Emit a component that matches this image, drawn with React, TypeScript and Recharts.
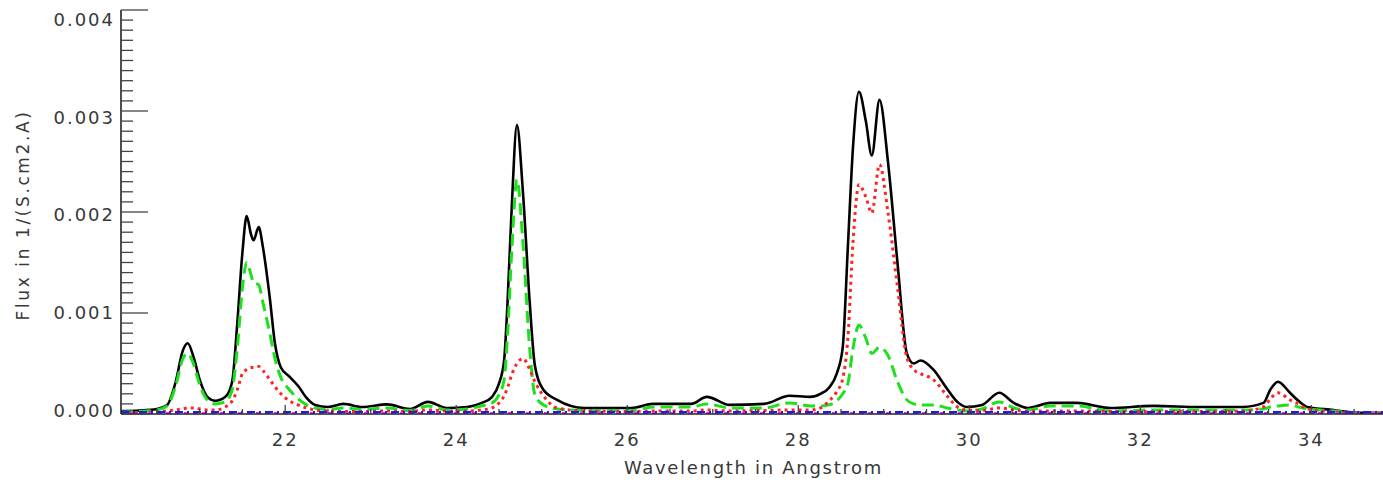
import React from 'react';
import { LineChart, Line, XAxis, YAxis } from 'recharts';

// Spectrum sampled in wavelength (Angstrom); fluxes in units of 1e-4 per (s cm2 A)
const wavelength = [
  20.08, 20.3, 20.5, 20.62, 20.72, 20.8, 20.86, 20.93, 21.0, 21.1,
  21.18, 21.3, 21.38, 21.44, 21.5, 21.55, 21.6, 21.63, 21.69, 21.74,
  21.82, 21.88, 21.95, 22.05, 22.15, 22.25, 22.35, 22.5, 22.68, 22.9,
  23.19, 23.46, 23.67, 23.89, 24.13, 24.3, 24.42, 24.5, 24.56, 24.6,
  24.65, 24.71, 24.78, 24.86, 24.92, 25.02, 25.18, 25.5, 26.05, 26.3,
  26.75, 26.93, 27.2, 27.6, 27.9, 28.14, 28.26, 28.36, 28.45, 28.52,
  28.58, 28.64, 28.71, 28.79, 28.86, 28.95, 29.05, 29.16, 29.27, 29.35,
  29.43, 29.58, 29.74, 29.86, 29.97, 30.15, 30.35, 30.52, 30.68, 30.95,
  31.26, 31.65, 32.15, 32.7, 33.2, 33.44, 33.52, 33.61, 33.75, 33.85,
  33.95, 34.26, 34.5, 34.92,
];

const totalFlux = [
  0.3, 0.35, 0.5, 0.9, 3.2, 6.2, 7.0, 5.6, 3.4, 1.6,
  1.3, 1.7, 3.2, 9.0, 16.0, 19.6, 17.8, 17.2, 18.5, 16.5,
  11.5, 7.0, 4.6, 3.7, 2.8, 1.6, 0.9, 0.7, 1.0, 0.7,
  0.95, 0.5, 1.2, 0.6, 0.7, 1.1, 1.7, 3.0, 5.3, 11.0,
  20.6, 28.6, 22.0, 11.0, 4.8, 2.4, 1.4, 0.6, 0.6, 1.0,
  1.0, 1.7, 0.9, 1.0, 1.8, 1.7, 2.0, 2.6, 4.0, 6.6,
  16.5, 26.4, 31.9, 29.0, 25.6, 31.1, 24.9, 15.0, 6.0, 5.0,
  5.3, 4.4, 2.5, 1.2, 0.7, 0.9, 2.1, 1.1, 0.6, 1.1,
  1.1, 0.6, 0.8, 0.7, 0.7, 1.1, 2.4, 3.2, 2.1, 1.3,
  0.7, 0.4, 0.15, 0.1,
];

const greenComponent = [
  0.2, 0.25, 0.4, 0.8, 2.8, 5.4, 6.0, 4.9, 2.9, 1.3,
  1.0, 1.2, 2.4, 6.5, 12.5, 15.0, 13.8, 13.0, 12.8, 11.0,
  8.0, 5.5, 3.6, 2.4, 1.5, 0.9, 0.6, 0.45, 0.6, 0.45,
  0.6, 0.35, 0.8, 0.4, 0.5, 0.8, 1.1, 1.9, 3.4, 7.8,
  16.2, 23.2, 17.0, 6.4, 1.9, 0.9, 0.5, 0.35, 0.35, 0.7,
  0.7, 1.0, 0.6, 0.6, 1.1, 0.8, 0.8, 0.9, 1.3, 2.0,
  3.0, 6.5, 8.8, 7.5, 6.0, 6.6, 5.8, 3.2, 1.4, 1.0,
  0.9, 0.9, 0.6, 0.4, 0.3, 0.5, 1.2, 0.6, 0.4, 0.8,
  0.8, 0.3, 0.4, 0.4, 0.4, 0.5, 0.7, 0.8, 0.9, 0.7,
  0.5, 0.3, 0.1, 0.1,
];

const redComponent = [
  0.15, 0.15, 0.2, 0.3, 0.4, 0.5, 0.6, 0.6, 0.5, 0.4,
  0.4, 0.7, 1.3, 2.4, 4.0, 4.4, 4.6, 4.6, 4.7, 4.3,
  3.4, 2.7, 2.0, 1.3, 0.9, 0.6, 0.4, 0.3, 0.25, 0.25,
  0.3, 0.25, 0.4, 0.3, 0.3, 0.4, 0.6, 1.1, 1.8, 2.6,
  3.9, 5.0, 5.5, 4.4, 3.2, 1.8, 0.6, 0.3, 0.25, 0.3,
  0.3, 0.4, 0.3, 0.35, 0.4, 0.4, 0.6, 1.3, 2.2, 3.5,
  7.5, 17.0, 22.7, 21.5, 19.9, 24.7, 19.9, 12.6, 5.6, 4.4,
  4.0, 3.4, 1.8, 0.7, 0.4, 0.35, 0.6, 0.4, 0.3, 0.3,
  0.3, 0.25, 0.25, 0.25, 0.3, 0.7, 1.5, 2.1, 1.4, 1.0,
  0.5, 0.2, 0.1, 0.1,
];

// Near-zero continuum components
const flatWavelength = [20.08, 34.92];
const blueComponent = [0.2, 0.2];
const magentaComponent = [0.06, 0.06];

const FLUX_UNIT = 1e-4;

const X_DOMAIN: [number, number] = [20.08, 34.92];
const Y_DOMAIN: [number, number] = [0, 0.004];

// Tick positions: minor every 0.5 A, labelled every 2 A; minor every 1e-4 in flux
const xTicks: number[] = [];
for (let i = 41; i <= 69; i++) xTicks.push(i / 2);
const yTicks: number[] = [];
for (let i = 0; i <= 40; i++) yTicks.push(Number((i * 1e-4).toFixed(4)));

const isMajorX = (v: number) => Math.abs(v % 2) < 1e-6;
const isMajorY = (v: number) => Math.round(v * 1e4) % 10 === 0;

const data = wavelength.map((w, i) => ({
  w,
  total: totalFlux[i] * FLUX_UNIT,
  green: greenComponent[i] * FLUX_UNIT,
  red: redComponent[i] * FLUX_UNIT,
}));

const flatData = flatWavelength.map((w, i) => ({
  w,
  blue: blueComponent[i] * FLUX_UNIT,
  magenta: magentaComponent[i] * FLUX_UNIT,
}));

const FONT = '"DejaVu Sans", Arial, sans-serif';
const TEXT_COLOR = '#383838';
const TICK_COLOR = '#444';
const AXIS_COLOR = '#222';

const LeftTick = (props: any) => {
  const { x, y, payload } = props;
  const v = payload.value as number;
  const major = isMajorY(v);
  // label offset drifts slightly from top to bottom
  const dy = -4 + 13.5 * (v / 0.004);
  return (
    <g>
      <line x1={x} y1={y} x2={x + (major ? 27 : 12)} y2={y} stroke={TICK_COLOR} strokeWidth={1.3} />
      {major && (
        <text
          x={x - 6}
          y={y + dy + 6.5}
          textAnchor="end"
          fontFamily={FONT}
          fontSize={18}
          letterSpacing={2}
          fill={TEXT_COLOR}
        >
          {v.toFixed(3)}
        </text>
      )}
    </g>
  );
};

const RightTick = (props: any) => {
  const { x, y, payload } = props;
  const major = isMajorY(payload.value);
  return <line x1={x} y1={y} x2={x - (major ? 27 : 12)} y2={y} stroke={TICK_COLOR} strokeWidth={1.3} />;
};

const BottomTick = (props: any) => {
  const { x, y, payload } = props;
  const v = payload.value as number;
  const major = isMajorX(v);
  return (
    <g>
      <line x1={x} y1={y} x2={x} y2={y - (major ? 9 : 5)} stroke={TICK_COLOR} strokeWidth={1.3} />
      {major && (
        <text
          x={x}
          y={y + 32}
          textAnchor="middle"
          fontFamily={FONT}
          fontSize={18}
          letterSpacing={2}
          fill={TEXT_COLOR}
        >
          {String(v)}
        </text>
      )}
    </g>
  );
};

const TopTick = (props: any) => {
  const { x, y, payload } = props;
  const major = isMajorX(payload.value);
  return <line x1={x} y1={y} x2={x} y2={y + (major ? 9 : 5)} stroke={TICK_COLOR} strokeWidth={1.3} />;
};

const XTitle = (props: any) => {
  const vb = props.viewBox || { x: 121, y: 414, width: 1269 };
  return (
    <text
      x={vb.x + vb.width / 2 - 2}
      y={vb.y + 60}
      textAnchor="middle"
      fontFamily={FONT}
      fontSize={18}
      letterSpacing={1.7}
      fill={TEXT_COLOR}
    >
      Wavelength in Angstrom
    </text>
  );
};

const YTitle = (props: any) => {
  const vb = props.viewBox || { x: 0, y: 10, height: 404 };
  const cx = 29;
  const cy = vb.y + vb.height / 2 + 3;
  return (
    <text
      x={cx}
      y={cy}
      transform={`rotate(-90 ${cx} ${cy})`}
      textAnchor="middle"
      fontFamily={FONT}
      fontSize={17}
      letterSpacing={2.6}
      fill={TEXT_COLOR}
    >
      Flux in 1/(S.cm2.A)
    </text>
  );
};

export default function App() {
  return (
    <div
      style={{
        position: 'absolute',
        left: 0,
        top: 0,
        width: 1383,
        height: 482,
        overflow: 'hidden',
        background: '#fff',
      }}
    >
      <LineChart width={1391} height={482} data={data} margin={{ top: 10, right: 1, bottom: 0, left: 0 }}>
        <XAxis
          dataKey="w"
          type="number"
          domain={X_DOMAIN}
          allowDataOverflow
          ticks={xTicks}
          interval={0}
          tickSize={0}
          tickMargin={0}
          tickLine={false}
          height={68}
          axisLine={{ stroke: AXIS_COLOR, strokeWidth: 1.6 }}
          tick={BottomTick}
          label={{ value: 'Wavelength in Angstrom', content: XTitle }}
        />
        <XAxis
          xAxisId="top"
          dataKey="w"
          type="number"
          orientation="top"
          domain={X_DOMAIN}
          allowDataOverflow
          ticks={xTicks}
          interval={0}
          tickSize={0}
          tickMargin={0}
          tickLine={false}
          height={0}
          axisLine={{ stroke: AXIS_COLOR, strokeWidth: 1.6 }}
          tick={TopTick}
        />
        <YAxis
          type="number"
          domain={Y_DOMAIN}
          allowDataOverflow
          ticks={yTicks}
          interval={0}
          tickSize={0}
          tickMargin={0}
          tickLine={false}
          width={121}
          axisLine={{ stroke: AXIS_COLOR, strokeWidth: 1.6 }}
          tick={LeftTick}
          label={{ value: 'Flux in 1/(S.cm2.A)', content: YTitle }}
        />
        <YAxis
          yAxisId="right"
          type="number"
          orientation="right"
          domain={Y_DOMAIN}
          allowDataOverflow
          ticks={yTicks}
          interval={0}
          tickSize={0}
          tickMargin={0}
          tickLine={false}
          width={0}
          axisLine={{ stroke: AXIS_COLOR, strokeWidth: 1.6 }}
          tick={RightTick}
        />
        <Line
          dataKey="total"
          type="monotone"
          stroke="#000"
          strokeWidth={2.6}
          dot={false}
          activeDot={false}
          isAnimationActive={false}
        />
        <Line
          dataKey="green"
          type="monotone"
          stroke="#1fe01f"
          strokeWidth={3}
          strokeDasharray="12 6"
          dot={false}
          activeDot={false}
          isAnimationActive={false}
        />
        <Line
          dataKey="red"
          type="monotone"
          stroke="#ff2424"
          strokeWidth={3}
          strokeDasharray="3 4"
          dot={false}
          activeDot={false}
          isAnimationActive={false}
        />
        <Line
          data={flatData}
          dataKey="magenta"
          type="linear"
          stroke="#ff22ff"
          strokeWidth={3}
          strokeDasharray="5 4"
          dot={false}
          activeDot={false}
          isAnimationActive={false}
        />
        <Line
          data={flatData}
          dataKey="blue"
          type="linear"
          stroke="#1a1aff"
          strokeWidth={2}
          strokeDasharray="8 4 2 4"
          dot={false}
          activeDot={false}
          isAnimationActive={false}
        />
      </LineChart>
    </div>
  );
}
